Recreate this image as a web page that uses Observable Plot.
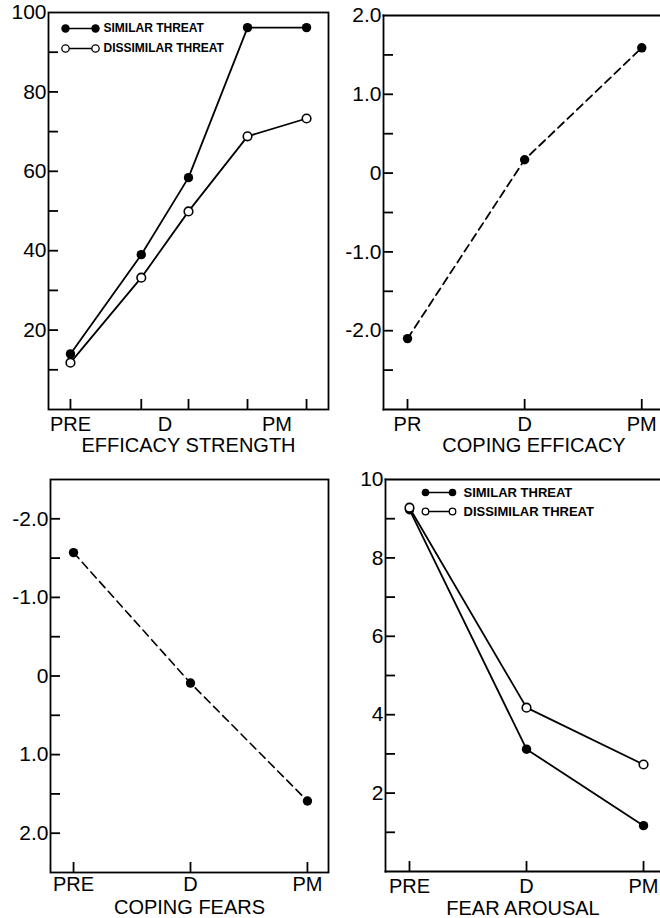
<!DOCTYPE html>
<html><head><meta charset="utf-8">
<script src="https://cdn.jsdelivr.net/npm/d3@7"></script>
<script src="https://cdn.jsdelivr.net/npm/@observablehq/plot@0.6"></script>
<style>
body{margin:0;background:#fff;}
#page{position:relative;width:660px;height:918px;overflow:hidden;background:#fff;}
.panel{position:absolute;}
</style></head><body><div id="page"></div>
<script>
// ---------- DATA ----------
const legendItems = ["SIMILAR THREAT", "DISSIMILAR THREAT"];

// Panel 1: Efficacy strength (5 assessments)
const effX = [0, 3, 5, 7.5, 10];
const effSimilar = [14, 39, 58.4, 96.2, 96.2];
const effDissimilar = [11.8, 33.2, 49.9, 68.8, 73.3];
const effXLabelPos = [0, 4, 8.75];
const effXLabels = ["PRE", "D", "PM"];
const effYTicks = [10, 20, 30, 40, 50, 60, 70, 80, 90];
const effYLabelVals = [20, 40, 60, 80, 100];
const effYLabels = ["20", "40", "60", "80", "100"];

// Panel 2: Coping efficacy
const phaseX = [0, 1, 2];
const copEffXLabels = ["PR", "D", "PM"];
const copingEfficacy = [-2.1, 0.17, 1.59];
const copEffYTicks = [-2.5, -2, -1.5, -1, -0.5, 0, 0.5, 1, 1.5];
const copEffYLabelVals = [2, 1, 0, -1, -2];
const copEffYLabels = ["2.0", "1.0", "0", "-1.0", "-2.0"];

// Panel 3: Coping fears (reversed axis)
const phaseLabels = ["PRE", "D", "PM"];
const copingFears = [-1.57, 0.09, 1.59];
const copFearYTicks = [-2, -1.5, -1, -0.5, 0, 0.5, 1, 1.5, 2];
const copFearYLabelVals = [-2, -1, 0, 1, 2];
const copFearYLabels = ["-2.0", "-1.0", "0", "1.0", "2.0"];

// Panel 4: Fear arousal
const fearSimilar = [9.23, 3.12, 1.17];
const fearDissimilar = [9.28, 4.18, 2.73];
const fearYTicks = [1, 2, 3, 4, 5, 6, 7, 8, 9];
const fearYLabelVals = [2, 4, 6, 8, 10];
const fearYLabels = ["2", "4", "6", "8", "10"];

// ---------- HELPERS ----------
const FONT = "'Liberation Sans', Arial, sans-serif";
const SW = 1.8;
const pts = (xs, ys) => xs.map((x, i) => ({x, y: ys[i]}));
const lookup = (vals, labels) => d => labels[vals.indexOf(d)];
const segment = {draw(ctx, l) { ctx.moveTo(0, 0); ctx.lineTo(0, -l); }};

function legendMarks(o) {
  const {dx0, dx1, dxText, dy0, dy1, r, fontSize} = o;
  const common = {frameAnchor: "top-left"};
  const txt = {textAnchor: "start", lineAnchor: "middle", fontSize, fontWeight: 600, letterSpacing: "0.3px"};
  return [
    Plot.vector([0], {...common, dx: dx0, dy: dy0, length: dx1 - dx0, rotate: 90, anchor: "start", shape: segment, stroke: "black", strokeWidth: 1.6}),
    Plot.dot([0], {...common, dx: dx0, dy: dy0, r, fill: "black"}),
    Plot.dot([0], {...common, dx: dx1, dy: dy0, r, fill: "black"}),
    Plot.text([legendItems[0]], {...common, dx: dxText, dy: dy0, text: d => d, ...txt}),
    Plot.vector([0], {...common, dx: dx0, dy: dy1, length: dx1 - dx0, rotate: 90, anchor: "start", shape: segment, stroke: "black", strokeWidth: 1.3}),
    Plot.dot([0], {...common, dx: dx0, dy: dy1, r: r - 0.5, fill: "white", stroke: "black", strokeWidth: 1.3}),
    Plot.dot([0], {...common, dx: dx1, dy: dy1, r: r - 0.5, fill: "white", stroke: "black", strokeWidth: 1.3}),
    Plot.text([legendItems[1]], {...common, dx: dxText, dy: dy1, text: d => d, ...txt})
  ];
}

function panel(cfg) {
  const frameMarks = cfg.openRight
    ? [Plot.frame({anchor: "left", strokeWidth: SW}), Plot.frame({anchor: "top", strokeWidth: SW}), Plot.frame({anchor: "bottom", strokeWidth: SW})]
    : [Plot.frame({strokeWidth: SW})];
  const svg = Plot.plot({
    width: cfg.width, height: cfg.height,
    marginLeft: cfg.ml, marginRight: cfg.mr, marginTop: cfg.mt, marginBottom: cfg.mb,
    x: {domain: cfg.xDomain},
    y: {domain: cfg.yDomain, reverse: !!cfg.yReverse},
    style: {fontFamily: FONT, fontSize: "20px", color: "black", background: "white", overflow: "visible"},
    marks: [
      ...frameMarks,
      Plot.axisY(cfg.yTicks, {tickSize: -10, fill: "none", strokeWidth: SW, label: null}),
      Plot.axisY(cfg.yLabelVals, {tickSize: 0, tickPadding: 2, tickFormat: lookup(cfg.yLabelVals, cfg.yLabels), label: null, fontSize: 21}),
      Plot.axisX(cfg.xTicks, {tickSize: -10, fill: "none", strokeWidth: SW, label: null}),
      Plot.axisX(cfg.xLabelPos, {tickSize: 0, tickPadding: cfg.xPad, tickFormat: lookup(cfg.xLabelPos, cfg.xLabels), label: null, fontSize: 20}),
      Plot.text([cfg.title], {frameAnchor: "bottom", dx: cfg.titleDx || 0, dy: cfg.titleDy, text: d => d, lineAnchor: "middle", fontSize: 20}),
      ...cfg.marks
    ]
  });
  const div = document.createElement("div");
  div.className = "panel";
  div.style.left = cfg.left + "px";
  div.style.top = cfg.top + "px";
  div.appendChild(svg);
  document.getElementById("page").appendChild(div);
}

// ---------- PANEL 1 ----------
panel({
  left: 0, top: 0, width: 330, height: 460, ml: 48, mr: 2, mt: 12, mb: 51,
  xDomain: [-0.93, 10.93], yDomain: [0, 100],
  yTicks: effYTicks, yLabelVals: effYLabelVals, yLabels: effYLabels,
  xTicks: effX, xLabelPos: effXLabelPos, xLabels: effXLabels, xPad: 7,
  title: "EFFICACY STRENGTH", titleDy: 36,
  marks: [
    Plot.line(pts(effX, effSimilar), {x: "x", y: "y", stroke: "black", strokeWidth: 1.8}),
    Plot.line(pts(effX, effDissimilar), {x: "x", y: "y", stroke: "black", strokeWidth: 1.8}),
    Plot.dot(pts(effX, effSimilar), {x: "x", y: "y", r: 4.7, fill: "black"}),
    Plot.dot(pts(effX, effDissimilar), {x: "x", y: "y", r: 4.3, fill: "white", stroke: "black", strokeWidth: 1.6}),
    ...legendMarks({dx0: 17, dx1: 47, dxText: 55, dy0: 16, dy1: 36, r: 4.2, fontSize: 12})
  ]
});

// ---------- PANEL 2 ----------
panel({
  left: 330, top: 0, width: 330, height: 460, ml: 53, mr: 0, mt: 15, mb: 51, openRight: true,
  xDomain: [-0.205, 2.16], yDomain: [-3, 2],
  yTicks: copEffYTicks, yLabelVals: copEffYLabelVals, yLabels: copEffYLabels,
  xTicks: phaseX, xLabelPos: phaseX, xLabels: copEffXLabels, xPad: 7,
  title: "COPING EFFICACY", titleDx: 12, titleDy: 36,
  marks: [
    Plot.line(pts(phaseX, copingEfficacy), {x: "x", y: "y", stroke: "black", strokeWidth: 1.8, strokeDasharray: "8,5"}),
    Plot.dot(pts(phaseX, copingEfficacy), {x: "x", y: "y", r: 4.7, fill: "black"})
  ]
});

// ---------- PANEL 3 ----------
panel({
  left: 0, top: 460, width: 330, height: 458, ml: 50, mr: 2, mt: 19, mb: 46,
  xDomain: [-0.197, 2.18], yDomain: [-2.5, 2.5], yReverse: true,
  yTicks: copFearYTicks, yLabelVals: copFearYLabelVals, yLabels: copFearYLabels,
  xTicks: phaseX, xLabelPos: phaseX, xLabels: phaseLabels, xPad: 4,
  title: "COPING FEARS", titleDy: 35,
  marks: [
    Plot.line(pts(phaseX, copingFears), {x: "x", y: "y", stroke: "black", strokeWidth: 1.6, strokeDasharray: "8,5"}),
    Plot.dot(pts(phaseX, copingFears), {x: "x", y: "y", r: 4.7, fill: "black"})
  ]
});

// ---------- PANEL 4 ----------
panel({
  left: 330, top: 460, width: 330, height: 458, ml: 55, mr: 0, mt: 19, mb: 47, openRight: true,
  xDomain: [-0.205, 2.145], yDomain: [0, 10],
  yTicks: fearYTicks, yLabelVals: fearYLabelVals, yLabels: fearYLabels,
  xTicks: phaseX, xLabelPos: phaseX, xLabels: phaseLabels, xPad: 7,
  title: "FEAR AROUSAL", titleDy: 37,
  marks: [
    Plot.line(pts(phaseX, fearSimilar), {x: "x", y: "y", stroke: "black", strokeWidth: 1.8}),
    Plot.line(pts(phaseX, fearDissimilar), {x: "x", y: "y", stroke: "black", strokeWidth: 1.8}),
    Plot.dot(pts(phaseX, fearSimilar), {x: "x", y: "y", r: 4.7, fill: "black"}),
    Plot.dot(pts(phaseX, fearDissimilar), {x: "x", y: "y", r: 4.3, fill: "white", stroke: "black", strokeWidth: 1.6}),
    ...legendMarks({dx0: 40, dx1: 67, dxText: 78, dy0: 13, dy1: 32, r: 3.8, fontSize: 13})
  ]
});
</script></body></html>
